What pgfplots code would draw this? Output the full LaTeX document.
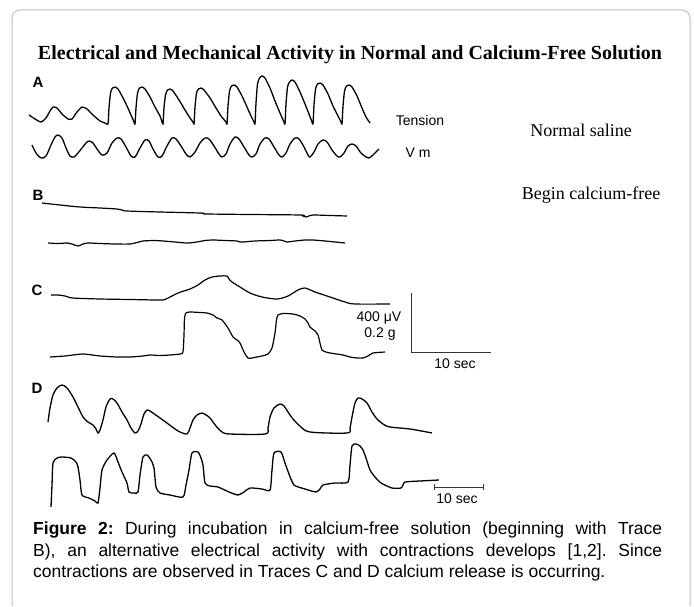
\documentclass[border=0pt]{standalone}
\usepackage{pgfplots}
\pgfplotsset{compat=1.18}
\usepackage{graphicx}
\usepackage{fontspec}
\setmainfont{Liberation Serif}
\newfontfamily\arial{Liberation Sans}
\frenchspacing
\begin{document}
\begin{tikzpicture}
\begin{axis}[scale only axis, width=694bp, height=606bp,
  xmin=0, xmax=694, ymin=0, ymax=606, y dir=reverse,
  hide axis, clip=false]
\path (rel axis cs:0,0) rectangle (rel axis cs:1,1);
% frame
\draw[draw=black!25, line width=1bp, rounded corners=8bp] (axis cs:12,606) -- (axis cs:12,10) -- (axis cs:690,10) -- (axis cs:690,606);
% title
\node at (axis cs:350,55) {\fontsize{20bp}{24bp}\selectfont\bfseries Electrical and Mechanical Activity in Normal and Calcium-Free Solution};
% labels
\node at (axis cs:38,82) {\arial\fontsize{15bp}{18bp}\selectfont\bfseries A};
\node at (axis cs:38,195) {\arial\fontsize{15bp}{18bp}\selectfont\bfseries B};
\node at (axis cs:37,290) {\arial\fontsize{15bp}{18bp}\selectfont\bfseries C};
\node at (axis cs:37,388) {\arial\fontsize{15bp}{18bp}\selectfont\bfseries D};
\node at (axis cs:420,120) {\arial\fontsize{14bp}{17bp}\selectfont Tension};
\node at (axis cs:418,153) {\arial\fontsize{14bp}{17bp}\selectfont V m};
\node at (axis cs:581,130) {\fontsize{18bp}{21bp}\selectfont Normal saline};
\node at (axis cs:591,195) {\fontsize{18bp}{21bp}\selectfont Begin calcium-free};
\node at (axis cs:379,318) {\arial\fontsize{14bp}{17bp}\selectfont 400 μV};
\node at (axis cs:380,334) {\arial\fontsize{14bp}{17bp}\selectfont 0.2 g};
\node at (axis cs:455,364) {\arial\fontsize{14bp}{17bp}\selectfont 10 sec};
\node at (axis cs:457,499) {\arial\fontsize{14bp}{17bp}\selectfont 10 sec};
% caption
\node[anchor=base west, inner sep=0] at (axis cs:33,534) {\arial\fontsize{17.5bp}{21bp}\selectfont\makebox[629bp][s]{\textbf{Figure 2:} During incubation in calcium-free solution (beginning with Trace}};
\node[anchor=base west, inner sep=0] at (axis cs:33,556) {\arial\fontsize{17.5bp}{21bp}\selectfont\makebox[629bp][s]{B), an alternative electrical activity with contractions develops [1,2]. Since}};
\node[anchor=base west, inner sep=0] at (axis cs:33,577) {\arial\fontsize{17.5bp}{21bp}\selectfont contractions are observed in Traces C and D calcium release is occurring.};
% scale bars
\addplot[black!80, line width=1bp] coordinates {(411,293) (411,352) (491,352)};
\addplot[black!80, line width=1bp] coordinates {(434,487) (483,487)};
\addplot[black!80, line width=1bp] coordinates {(434,484) (434,490)};
\addplot[black!80, line width=1bp] coordinates {(483,484) (483,490)};
% Trace A tension
\addplot[black, line width=1.3bp, smooth, tension=0.35] coordinates {
(29,115) (35,119) (41,122) (46,118) (50,111) (53,107) (57,108) (62,114) (68,119) (72,119) (77,112) (82,107) (87,109) (93,115) (100,121) (105,123)
(108,124) (109,108) (110.5,93) (112.5,88) (115,87) (118,89) (122,96) (127,106) (131,115) (134,122)
(135,124) (136,108) (137.5,93) (139.5,88) (142,87) (145,89) (150,97) (155,107) (160,116) (162,122)
(163,124) (164,108) (165.5,95) (167.5,90) (170,89) (173,91) (179,100) (185,110) (190,118) (193,122)
(194,124) (195,107) (196.5,93) (198.5,89) (201,88) (204,90) (210,98) (216,108) (221,116) (226,122)
(227,124) (228,106) (229.5,91) (231.5,86) (234,85) (237,87) (242,96) (247,107) (251,116) (254,122)
(255,124) (256,103) (257.5,84) (259.5,78) (262,76) (265,78) (270,88) (275,101) (280,113) (284,122)
(285,124) (286,104) (287.5,87) (289.5,82) (292,80) (295,82) (300,92) (305,104) (309,114) (312,122)
(313,124) (314,105) (315.5,89) (317.5,84) (320,83) (323,85) (328,94) (333,106) (338,116) (341,122)
(342,124) (343,106) (344.5,91) (346.5,86) (349,85) (352,87) (357,96) (362,108) (366,117) (370,123)
};
% Trace A Vm
\addplot[black, line width=1.3bp, smooth, tension=0.5] coordinates {
(32,145) (36,153) (41,158) (46,156) (51,145) (55,137) (58,135) (62,138) (66,148) (70,156) (74,157) (78,153) (82,148) (86,143) (89,141) (93,143) (97,149) (102,155) (107,153) (112,143) (117,138) (121,139) (126,147) (131,156) (135,157) (140,148) (145,140) (149,141) (153,149) (158,157) (162,156) (167,146) (172,138) (176,139) (181,146) (186,154) (190,157) (195,152) (200,143) (205,138) (209,139) (214,146) (219,154) (222,157) (226,154) (230,144) (235,137) (239,139) (244,147) (249,155) (252,157) (256,154) (260,144) (265,138) (269,139) (274,147) (279,155) (282,157) (286,153) (290,144) (295,138) (299,139) (304,147) (308,155) (310,157) (314,152) (318,144) (323,140) (327,142) (332,150) (337,156) (340,157) (344,153) (348,146) (352,144) (356,146) (361,153) (366,157) (369,158) (373,155) (379,149)
};
% Trace B
\addplot[black, line width=1.2bp, smooth, tension=0.5] coordinates {
(42,203) (60,205) (80,207) (100,208) (117,209) (122,210) (127,211) (160,212) (200,213) (204,213.5) (207,214) (250,214.5) (300,215) (303,216) (306,217) (309,216) (313,215) (330,215.5) (347,216)
};
\addplot[black, line width=1.2bp, smooth, tension=0.5] coordinates {
(48,243) (58,243.5) (67,243) (72,244) (78,246) (83,244) (88,243) (100,243.5) (115,244) (130,244) (137,242.5) (143,241) (155,240.5) (163,241) (175,242) (187,243) (197,242) (205,240.5) (213,240) (225,240.5) (237,241) (240,242) (243,242) (255,241) (270,240.5) (280,240) (284,241) (287,242) (295,241) (305,240) (313,240) (325,241) (335,242) (345,243)
};
% Trace C
\addplot[black, line width=1.2bp, smooth, tension=0.5] coordinates {
(51,295) (58,295) (65,296) (73,298) (100,299) (130,299.5) (160,300) (166,299) (178,293) (190,289) (198,285) (205,280) (212,277) (220,276) (227,276) (229,279) (232,282) (240,287) (250,293) (262,297) (277,299) (288,296) (298,290) (305,288) (315,292) (330,297) (345,302) (355,304) (390,304)
};
\addplot[black, line width=1.2bp, smooth, tension=0.4] coordinates {
(50,357) (65,356) (83,354) (100,356) (117,357) (130,357) (143,356) (150,355) (160,355.5) (170,355) (180,354) (183,352) (184,335) (184.5,318) (186,313) (190,312) (200,312.5) (207,313) (213,315) (217,318) (222,320) (228,328) (233,337) (237,340) (240,343) (244,352) (248,358) (252,358) (257,357) (262,356) (268,354) (272,348) (275,333) (276.5,320) (278,315) (283,313.5) (293,314) (300,316) (305,319) (308,323) (310,327) (315,331) (318,335) (320,343) (322,350) (326,352) (330,353) (343,355) (350,357) (357,358) (363,358) (368,356) (373,353) (385,352)
};
% Trace D
\addplot[black, line width=1.3bp, smooth, tension=0.5] coordinates {
(48,422) (50,408) (53,395) (57,388) (62,385) (67,388) (73,397) (78,407) (83,417) (88,422) (93,425) (96,429) (98,433) (100,430) (103,420) (106,407) (110,399) (113,399) (117,403) (122,412) (127,420) (131,428) (135,433) (138,431) (141,424) (144,414) (147,410) (150,411) (153,413) (160,418) (167,423) (175,429) (180,432) (187,434) (190,428) (193,420) (197,415) (202,413) (206,415) (210,418) (216,426) (222,432) (230,434) (265,434) (268,428) (270,417) (274,408) (280,404) (284,406) (288,412) (293,419) (300,426) (310,432) (347,433) (350,428) (352,417) (355,403) (358,398) (362,399) (367,403) (372,412) (377,419) (383,424) (390,427) (410,429) (432,433)
};
\addplot[black, line width=1.3bp, smooth, tension=0.4] coordinates {
(51,507) (52,485) (53,463) (57,458) (62,457) (71,458) (76,462) (78,467) (80,480) (82,495) (89,498) (95,501) (98,503) (100,488) (102,470) (107,460) (114,453) (118,462) (122,472) (127,483) (129,492) (134,493) (138,492) (140,475) (143,457) (147,455) (151,460) (154,468) (156,487) (160,493) (170,495) (183,497) (186,485) (189,470) (192,453) (198,452) (201,458) (203,465) (205,483) (210,486) (218,487) (229,492) (238,495) (244,492) (250,488) (262,489) (270,490) (272,470) (274,453) (281,452) (285,463) (289,474) (294,485) (305,489) (316,492) (320,489) (323,485) (335,483) (348,482) (350,465) (352,446) (356,444) (360,446) (363,450) (366,458) (370,470) (375,477) (381,483) (392,488) (401,488) (403,485) (405,482) (420,481) (439,480)
};
\end{axis}
\end{tikzpicture}
\end{document}
